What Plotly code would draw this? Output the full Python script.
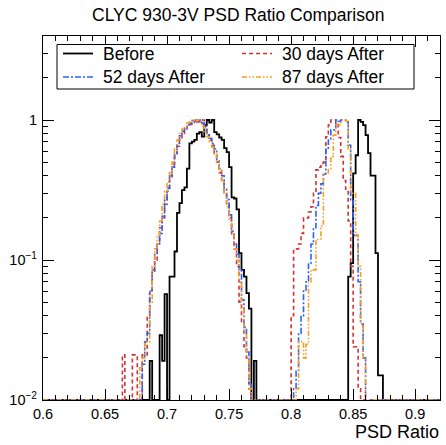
import numpy as np
import plotly.graph_objects as go

# ---------------- data (normalised counts per bin) ----------------
x_min, x_max = 0.60, 0.92
bin_width = 0.002
n_bins = 160

series_names = ["Before", "30 days After", "52 days After", "87 days After"]

before_left_start = 0.686
before_left = [0.019, 0, 0, 0, 0.029, 0.019, 0.057, 0, 0.076, 0.076,
               0.115, 0.217, 0.255, 0.316, 0.33, 0.45, 0.68, 0.70, 0.72, 0.80,
               0.82, 0.76, 0.92, 1.0, 0.96, 1.0, 0.82, 0.79, 0.75, 0.72,
               0.63, 0.59, 0.46, 0.28, 0.275, 0.23, 0.112, 0.085, 0.076, 0.058,
               0.045, 0, 0.019]
before_right_start = 0.846
before_right = [0.076, 0.095, 0.415, 0.56, 1.0, 0.97, 0.92, 0.78, 0.58, 0.40,
                0.40, 0.112, 0.015, 0.015]

d30_left_start = 0.664
d30_left = [0.021, 0, 0, 0, 0.021, 0.021, 0, 0, 0.021, 0.021,
            0.04, 0.06, 0.08, 0.10, 0.13, 0.17, 0.20, 0.25, 0.31, 0.38,
            0.48, 0.55, 0.65, 0.72, 0.80, 0.86, 0.90, 0.93, 0.96, 0.98,
            1.0, 0.97, 1.0, 0.88, 0.78, 0.72, 0.66, 0.58, 0.50, 0.42,
            0.36, 0.30, 0.25, 0.20, 0.15, 0.12, 0.09, 0.05, 0.035, 0.024,
            0.02, 0.012]
d30_right_start = 0.800
d30_right = [0.04, 0.12, 0.12, 0.13, 0.155, 0.20, 0.20, 0.22, 0.24, 0.30,
             0.44, 0.46, 0.49, 0.50, 0.76, 0.92, 1.0, 1.0, 0.96, 0.75,
             0.55, 0.37, 0.32, 0.19, 0.09, 0.024, 0.024, 0.012]

d52_left_start = 0.680
d52_left = [0.018, 0.026, 0.03, 0.06, 0.085, 0.11, 0.13, 0.155, 0.205, 0.27,
            0.325, 0.40, 0.46, 0.58, 0.68, 0.77, 0.83, 0.87, 0.92, 0.95,
            0.99, 1.0, 0.97, 1.0, 0.95, 0.90, 0.80, 0.74, 0.68, 0.62,
            0.52, 0.45, 0.40, 0.32, 0.27, 0.21, 0.16, 0.13, 0.11, 0.085,
            0.052, 0.033, 0.022, 0.013]
d52_right_start = 0.802
d52_right = [0.012, 0.016, 0.03, 0.04, 0.06, 0.07, 0.095, 0.13, 0.17, 0.245,
             0.30, 0.35, 0.41, 0.63, 0.72, 0.85, 0.85, 1.0, 0.98, 1.0,
             1.0, 0.97, 0.66, 0.27, 0.15, 0.15, 0.07, 0.035, 0.02]

d87_left_start = 0.678
d87_left = [0.017, 0.02, 0.026, 0.026, 0.05, 0.09, 0.12, 0.15, 0.19, 0.25,
            0.31, 0.36, 0.42, 0.50, 0.62, 0.72, 0.80, 0.86, 0.90, 0.95,
            0.97, 1.0, 0.98, 1.0, 0.96, 0.90, 0.83, 0.76, 0.70, 0.64,
            0.57, 0.50, 0.43, 0.37, 0.30, 0.24, 0.19, 0.15, 0.12, 0.10,
            0.07, 0.045, 0.03, 0.02, 0.012]
d87_right_start = 0.804
d87_right = [0.012, 0.026, 0.026, 0.02, 0.025, 0.07, 0.085, 0.085, 0.14, 0.14,
             0.175, 0.41, 0.41, 0.45, 0.55, 0.78, 0.92, 0.92, 1.0, 1.0,
             0.98, 0.62, 0.30, 0.30, 0.15, 0.09, 0.035, 0.02]

x_tick_vals = [0.6, 0.65, 0.7, 0.75, 0.8, 0.85, 0.9]
x_tick_text = ["0.6", "0.65", "0.7", "0.75", "0.8", "0.85", "0.9"]
y_tick_vals = [0.01, 0.1, 1]
y_tick_text = ["10<sup>\u22122</sup>", "10<sup>\u22121</sup>", "1"]

# ---------------- helpers ----------------
def full(segments):
    y = np.zeros(n_bins)
    for start, vals in segments:
        i0 = int(round((start - x_min) / bin_width))
        y[i0:i0 + len(vals)] = vals
    return y

edges = x_min + bin_width * np.arange(n_bins + 1)
y_floor = 0.01

hist = [
    full([(before_left_start, before_left), (before_right_start, before_right)]),
    full([(d30_left_start, d30_left), (d30_right_start, d30_right)]),
    full([(d52_left_start, d52_left), (d52_right_start, d52_right)]),
    full([(d87_left_start, d87_left), (d87_right_start, d87_right)]),
]
colors = ["#000000", "#d23232", "#2563ff", "#ff9a1a"]
dashes = ["solid", "4px,3px", "6px,2px,2px,2px", "5px,2px,1.5px,2px,1.5px,2px"]
widths = [1.8, 1.6, 1.6, 1.6]

fig = go.Figure()
for name, h, c, d, w in zip(series_names, hist, colors, dashes, widths):
    y = np.maximum(np.append(h, h[-1]), y_floor)
    fig.add_trace(go.Scatter(x=edges, y=y, mode="lines", name=name,
                             line=dict(color=c, dash=d, width=w, shape="hv"),
                             hoverinfo="skip"))

# pixel geometry of the plot area
L, R, T, B = 43, 440, 36, 400
def px(xp):
    return (xp - L) / (R - L)
def py(yp):
    return (B - yp) / (B - T)

font_family = "Liberation Sans, Arial, sans-serif"

fig.update_layout(
    width=446, height=445,
    margin=dict(l=L, r=446 - R, t=T, b=445 - B),
    plot_bgcolor="white", paper_bgcolor="white",
    showlegend=False,
    font=dict(family=font_family, color="black"),
)
fig.update_xaxes(
    range=[x_min, x_max], showgrid=False, zeroline=False,
    showline=True, linecolor="black", linewidth=1.2, mirror="ticks",
    ticks="inside", ticklen=11, tickwidth=1, tickcolor="black",
    tickvals=x_tick_vals, ticktext=x_tick_text,
    tickfont=dict(family=font_family, size=14.5, color="black"),
    minor=dict(ticks="inside", ticklen=5, tickwidth=1, tickcolor="black",
               dtick=0.01, tick0=0.6, showgrid=False),
)
fig.update_yaxes(
    type="log", range=[-2, 0.6], showgrid=False, zeroline=False,
    showline=True, linecolor="black", linewidth=1.2, mirror="ticks",
    ticks="inside", ticklen=11, tickwidth=1, tickcolor="black",
    tickvals=y_tick_vals, ticktext=y_tick_text,
    tickfont=dict(family=font_family, size=14.5, color="black"),
    ticklabelstandoff=2,
    minor=dict(ticks="inside", ticklen=5, tickwidth=1, tickcolor="black",
               tickvals=[0.02, 0.03, 0.04, 0.05, 0.06, 0.07, 0.08, 0.09,
                         0.2, 0.3, 0.4, 0.5, 0.6, 0.7, 0.8, 0.9, 2, 3, 4],
               showgrid=False),
)

annotations = [
    dict(text="CLYC 930-3V PSD Ratio Comparison", x=px(238), y=py(15),
         xref="paper", yref="paper", xanchor="center", yanchor="middle",
         showarrow=False, font=dict(family=font_family, size=17.5, color="black")),
    dict(text="PSD Ratio", x=px(441), y=py(432),
         xref="paper", yref="paper", xanchor="right", yanchor="middle",
         showarrow=False, font=dict(family=font_family, size=18, color="black")),
]
shapes = [
    dict(type="rect", xref="paper", yref="paper",
         x0=px(57), x1=px(414), y0=py(44.5), y1=py(89),
         line=dict(color="black", width=1), fillcolor="white", layer="above"),
]
legend_pos = [(63, 93, 101, 53.5), (242, 272, 280, 53.5),
              (63, 93, 101, 77), (242, 272, 280, 77)]
for (x0, x1, xt, yy), name, c, d, w in zip(legend_pos, series_names, colors, dashes, widths):
    shapes.append(dict(type="line", xref="paper", yref="paper",
                       x0=px(x0), x1=px(x1), y0=py(yy), y1=py(yy),
                       line=dict(color=c, dash=d, width=w), layer="above"))
    annotations.append(dict(text=name, x=px(xt), y=py(yy), xref="paper", yref="paper",
                            xanchor="left", yanchor="middle", showarrow=False,
                            font=dict(family=font_family, size=17.5, color="black")))

fig.update_layout(annotations=annotations, shapes=shapes)
fig.write_html("out.html")
